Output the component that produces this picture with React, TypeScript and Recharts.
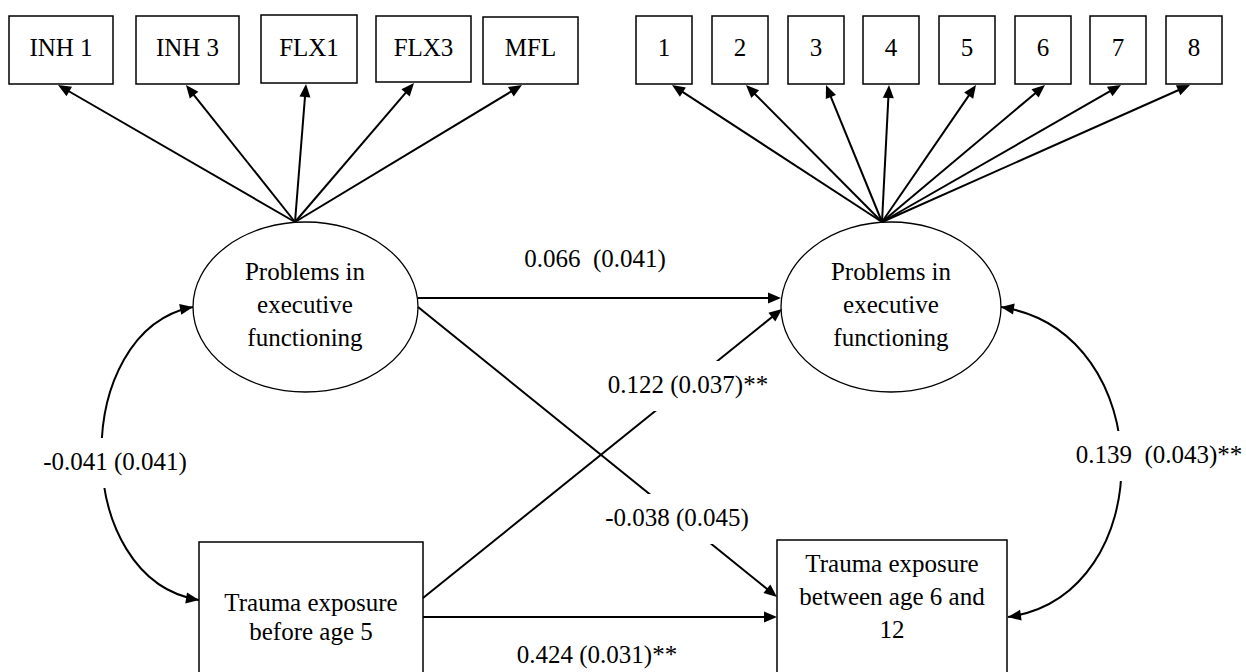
import React from 'react';
import { ScatterChart, Scatter, XAxis, YAxis, ReferenceLine, ReferenceArea, ReferenceDot } from 'recharts';

const W = 1246;
const H = 672;
const FONT = '"Liberation Serif", "Times New Roman", "DejaVu Serif", serif';
const FS = 25;

// ---------- data ----------
const efIndicatorsAge5 = ['INH 1', 'INH 3', 'FLX1', 'FLX3', 'MFL'];
const efIndicatorsAge12 = ['1', '2', '3', '4', '5', '6', '7', '8'];
const efLatentText = ['Problems in', 'executive', 'functioning'];
const traumaAge5Text = ['Trauma exposure', 'before age 5'];
const traumaAge12Text = ['Trauma exposure', 'between age 6 and', '12'];
const pathEstimates = [0.066, 0.122, -0.038, 0.424, -0.041, 0.139];
const pathStdErrors = [0.041, 0.037, 0.045, 0.031, 0.041, 0.043];
const pathStars = ['', '**', '', '**', '', '**'];
const pathSpacing = ['  ', ' ', ' ', ' ', ' ', '  '];

const pathLabels = pathEstimates.map(
  (e, i) => `${e.toFixed(3)}${pathSpacing[i]}(${pathStdErrors[i].toFixed(3)})${pathStars[i]}`
);

// ---------- layout (diagram units, mapped through the hidden axes) ----------
const indBoxesL = [
  [9, 113, 16, 84],
  [136, 239, 16, 84],
  [261, 357, 15, 83],
  [376, 471, 16, 82],
  [483, 578, 17, 84],
];
const indTipsL = [58, 186, 306, 414, 522];
const indBoxesR = [
  [636, 692, 16, 84],
  [712, 768, 16, 84],
  [788, 844, 16, 84],
  [863, 919, 16, 84],
  [939, 995, 16, 84],
  [1015, 1071, 16, 84],
  [1090, 1146, 16, 84],
  [1166, 1222, 16, 84],
];
const indTipsR = [672, 746, 826, 889, 976, 1045, 1121, 1190];
const apexL = [295, 222];
const apexR = [882, 222];
const ellipseL = [193, 418, 222, 392];
const ellipseR = [781, 1001, 222, 392];
const boxT5 = [199, 423, 542, 700];
const boxT12 = [777, 1007, 540, 700];

const straightPaths = [
  { from: [418, 298], to: [781, 298] },
  { from: [423, 598], to: [782, 309] },
  { from: [418, 307], to: [777, 597] },
  { from: [423, 617], to: [777, 617] },
];
const curvedPaths = [
  { from: [193, 307], to: [199, 600], bulge: -126 },
  { from: [1001, 307], to: [1008, 617], bulge: 156 },
];
// x, baseline y, needs white gap
const labelPos: [number, number, boolean][] = [
  [595, 267, false],
  [688, 393, true],
  [677, 526, true],
  [597, 663, false],
  [115, 470, true],
  [1159, 463, true],
];

const nodeTextData = [
  { x: 305, y: 280, lines: efLatentText, gap: 33 },
  { x: 891, y: 280, lines: efLatentText, gap: 33 },
  { x: 311, y: 611, lines: traumaAge5Text, gap: 29 },
  { x: 892, y: 572, lines: traumaAge12Text, gap: 33 },
];
const indicatorTextData = [
  ...efIndicatorsAge5.map((t, i) => ({ x: (indBoxesL[i][0] + indBoxesL[i][1]) / 2, y: 56, lines: [t], gap: 0 })),
  ...efIndicatorsAge12.map((t, i) => ({ x: (indBoxesR[i][0] + indBoxesR[i][1]) / 2, y: 56, lines: [t], gap: 0 })),
];

// ---------- drawing helpers ----------
function headPoints(tx: number, ty: number, dx: number, dy: number, len = 13, half = 5.5) {
  const L = Math.hypot(dx, dy) || 1;
  const ux = dx / L;
  const uy = dy / L;
  const bx = tx - ux * len;
  const by = ty - uy * len;
  return `${tx},${ty} ${bx - uy * half},${by + ux * half} ${bx + uy * half},${by - ux * half}`;
}

const StraightArrow = (p: any) => {
  const { x1, y1, x2, y2 } = p;
  const dx = x2 - x1;
  const dy = y2 - y1;
  const L = Math.hypot(dx, dy) || 1;
  const ex = x2 - (dx / L) * 8;
  const ey = y2 - (dy / L) * 8;
  return (
    <g>
      <line x1={x1} y1={y1} x2={ex} y2={ey} stroke="#000" strokeWidth={2} />
      <polygon points={headPoints(x2, y2, dx, dy)} fill="#000" />
    </g>
  );
};

const CurvedArrow = (p: any) => {
  const { x1, y1, x2, y2, bulge } = p;
  const baseX = (x1 + x2) / 2 + bulge;
  const c1x = baseX;
  const c1y = y1 + (y2 - y1) * 0.08;
  const c2x = baseX;
  const c2y = y1 + (y2 - y1) * 0.93;
  const d = `M${x1},${y1} C${c1x},${c1y} ${c2x},${c2y} ${x2},${y2}`;
  return (
    <g>
      <path d={d} fill="none" stroke="#000" strokeWidth={2} />
      <polygon points={headPoints(x1, y1, x1 - c1x, y1 - c1y)} fill="#000" />
      <polygon points={headPoints(x2, y2, x2 - c2x, y2 - c2y)} fill="#000" />
    </g>
  );
};

const EllipseShape = (p: any) => {
  const { x, y, width, height } = p;
  return (
    <ellipse
      cx={x + width / 2}
      cy={y + height / 2}
      rx={Math.abs(width) / 2}
      ry={Math.abs(height) / 2}
      fill="#fff"
      stroke="#000"
      strokeWidth={1.3}
    />
  );
};

const BoxShape = (p: any) => {
  const { x, y, width, height } = p;
  return <rect x={x} y={y} width={width} height={height} fill="#fff" stroke="#000" strokeWidth={1.5} />;
};

const textStyle: React.CSSProperties = { whiteSpace: 'pre', fontFamily: FONT, fontSize: FS };

const NodeText = (p: any) => {
  const { cx, cy, payload } = p;
  return (
    <g>
      {payload.lines.map((t: string, i: number) => (
        <text key={i} x={cx} y={cy + i * payload.gap} textAnchor="middle" fill="#000" style={textStyle}>
          {t}
        </text>
      ))}
    </g>
  );
};

const makeLabel = (text: string, gap: boolean) => (p: any) => {
  const { cx, cy } = p;
  return (
    <g>
      {gap && <rect x={cx - 85} y={cy - 32} width={170} height={50} fill="#fff" />}
      <text x={cx} y={cy} textAnchor="middle" fill="#000" style={textStyle}>
        {text}
      </text>
    </g>
  );
};

export default function App() {
  return (
    <div style={{ position: 'absolute', left: 0, top: 0, width: W, height: H, background: '#fff' }}>
      <ScatterChart width={W} height={H} margin={{ top: 0, right: 0, bottom: 0, left: 0 }}>
        <XAxis type="number" dataKey="x" domain={[0, W]} hide allowDataOverflow />
        <YAxis type="number" dataKey="y" domain={[0, H]} reversed hide allowDataOverflow />

        {/* factor-loading arrows */}
        {indTipsL.map((tx, i) => (
          <ReferenceLine
            key={`la${i}`}
            segment={[
              { x: apexL[0], y: apexL[1] },
              { x: tx, y: indBoxesL[i][3] + 1 },
            ]}
            shape={StraightArrow}
          />
        ))}
        {indTipsR.map((tx, i) => (
          <ReferenceLine
            key={`ra${i}`}
            segment={[
              { x: apexR[0], y: apexR[1] },
              { x: tx, y: indBoxesR[i][3] + 1 },
            ]}
            shape={StraightArrow}
          />
        ))}

        {/* indicator boxes */}
        {indBoxesL.map((b, i) => (
          <ReferenceArea key={`lb${i}`} x1={b[0]} x2={b[1]} y1={b[2]} y2={b[3]} shape={BoxShape} ifOverflow="visible" />
        ))}
        {indBoxesR.map((b, i) => (
          <ReferenceArea key={`rb${i}`} x1={b[0]} x2={b[1]} y1={b[2]} y2={b[3]} shape={BoxShape} ifOverflow="visible" />
        ))}

        {/* latent and observed nodes */}
        <ReferenceArea x1={ellipseL[0]} x2={ellipseL[1]} y1={ellipseL[2]} y2={ellipseL[3]} shape={EllipseShape} ifOverflow="visible" />
        <ReferenceArea x1={ellipseR[0]} x2={ellipseR[1]} y1={ellipseR[2]} y2={ellipseR[3]} shape={EllipseShape} ifOverflow="visible" />
        <ReferenceArea x1={boxT5[0]} x2={boxT5[1]} y1={boxT5[2]} y2={boxT5[3]} shape={BoxShape} ifOverflow="visible" />
        <ReferenceArea x1={boxT12[0]} x2={boxT12[1]} y1={boxT12[2]} y2={boxT12[3]} shape={BoxShape} ifOverflow="visible" />

        {/* structural paths */}
        {straightPaths.map((s, i) => (
          <ReferenceLine
            key={`sp${i}`}
            segment={[
              { x: s.from[0], y: s.from[1] },
              { x: s.to[0], y: s.to[1] },
            ]}
            shape={StraightArrow}
          />
        ))}
        {curvedPaths.map((c, i) => (
          <ReferenceLine
            key={`cp${i}`}
            segment={[
              { x: c.from[0], y: c.from[1] },
              { x: c.to[0], y: c.to[1] },
            ]}
            shape={(p: any) => <CurvedArrow {...p} bulge={c.bulge} />}
          />
        ))}

        {/* path labels */}
        {labelPos.map((lp, i) => (
          <ReferenceDot key={`lbl${i}`} x={lp[0]} y={lp[1]} r={1} shape={makeLabel(pathLabels[i], lp[2])} />
        ))}

        <Scatter data={nodeTextData} shape={NodeText} isAnimationActive={false} />
        <Scatter data={indicatorTextData} shape={NodeText} isAnimationActive={false} />
      </ScatterChart>
    </div>
  );
}
